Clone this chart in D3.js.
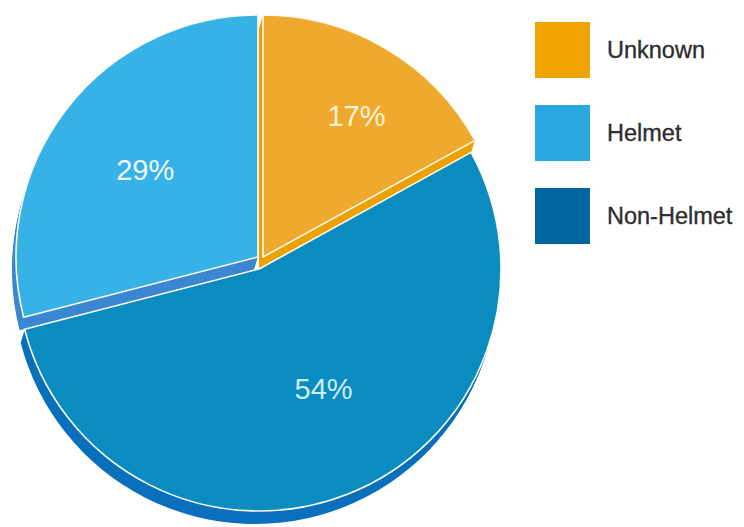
<!DOCTYPE html>
<html>
<head>
<meta charset="utf-8">
<script src="https://cdn.jsdelivr.net/npm/d3@7"></script>
<style>
  html, body { margin: 0; padding: 0; background: #fff; }
  svg { display: block; }
</style>
</head>
<body>
<div id="chart"></div>
<script>
// data
var categories = ["Unknown", "Helmet", "Non-Helmet"];   // legend order
var shares = [17, 29, 54];                              // percent
var sliceOrder = ["Unknown", "Non-Helmet", "Helmet"];    // clockwise from 12 o'clock

var width = 744, height = 527;
var cx = 259, cy = 261, R = 242;
var depth = [-4, 13];   // extrusion direction of the 3d side

var faceColor = d3.scaleOrdinal().domain(categories).range(["#efa92e", "#37b2e6", "#0a8cc0"]);
var sideColor = d3.scaleOrdinal().domain(categories).range(["#eca104", "#3b87d3", "#0a70bd"]);
var swatchColor = d3.scaleOrdinal().domain(categories).range(["#efa400", "#29a7e1", "#02679f"]);
var labelColor = d3.scaleOrdinal().domain(categories).range(["#fff2d4", "#eef8ff", "#cdeefb"]);
// how far each slice is pulled out of the pie
var pullOut = d3.scaleOrdinal().domain(categories).range([[4, -4], [-1, -4], [0, 8]]);
var labelRadius = d3.scaleOrdinal().domain(categories).range([0.70, 0.59, 0.56]);
var labelTurn = d3.scaleOrdinal().domain(categories).range([0.05, 0, -0.12]);

var svg = d3.select("#chart").append("svg")
    .attr("width", width)
    .attr("height", height);

var rows = categories.map(function(c, i) { return { name: c, value: shares[i] }; });

var pie = d3.pie()
    .value(function(d) { return d.value; })
    .sort(function(a, b) { return sliceOrder.indexOf(a.name) - sliceOrder.indexOf(b.name); });

var arcs = pie(rows);
var arc = d3.arc().innerRadius(0).outerRadius(R);

// draw back to front: Helmet, Unknown, then Non-Helmet on top
var drawOrder = ["Helmet", "Unknown", "Non-Helmet"];
arcs.sort(function(a, b) { return drawOrder.indexOf(a.data.name) - drawOrder.indexOf(b.data.name); });

var slices = svg.selectAll("g.slice")
    .data(arcs)
    .enter().append("g")
    .attr("class", "slice")
    .attr("transform", function(d) {
        var s = pullOut(d.data.name);
        return "translate(" + (cx + s[0]) + "," + (cy + s[1]) + ")";
    });

var steps = d3.range(13, 0, -1);
slices.each(function(d) {
    var g = d3.select(this);
    steps.forEach(function(k) {
        var t = k / steps.length;
        g.append("path")
            .attr("d", arc(d))
            .attr("transform", "translate(" + depth[0] * t + "," + depth[1] * t + ")")
            .attr("fill", sideColor(d.data.name));
    });
    g.append("path")
        .attr("d", arc(d))
        .attr("fill", faceColor(d.data.name))
        .attr("stroke", "#fbfbee")
        .attr("stroke-width", 1.6)
        .attr("stroke-linejoin", "round");
});

slices.append("text")
    .attr("transform", function(d) {
        var r = R * labelRadius(d.data.name);
        var a = (d.startAngle + d.endAngle) / 2 + labelTurn(d.data.name);
        return "translate(" + (Math.sin(a) * r) + "," + (-Math.cos(a) * r) + ")";
    })
    .attr("text-anchor", "middle")
    .attr("dy", "0.36em")
    .attr("font-family", "'Liberation Sans', Arial, sans-serif")
    .attr("font-size", 29)
    .attr("fill", function(d) { return labelColor(d.data.name); })
    .text(function(d) { return d.data.value + "%"; });

// legend
var ly = d3.scaleBand().domain(categories).range([22, 244]).paddingInner(0.325);

var legend = svg.selectAll("g.legend")
    .data(categories)
    .enter().append("g")
    .attr("class", "legend")
    .attr("transform", function(d) { return "translate(535," + ly(d) + ")"; });

legend.append("rect")
    .attr("width", 55)
    .attr("height", ly.bandwidth())
    .attr("fill", function(d) { return swatchColor(d); });

legend.append("text")
    .attr("x", 72)
    .attr("y", ly.bandwidth() / 2)
    .attr("dy", "0.36em")
    .attr("font-family", "'Liberation Sans', Arial, sans-serif")
    .attr("font-size", 23.5)
    .attr("fill", "#2e2e2e")
    .attr("stroke", "#2e2e2e")
    .attr("stroke-width", 0.35)
    .text(function(d) { return d; });
</script>
</body>
</html>
